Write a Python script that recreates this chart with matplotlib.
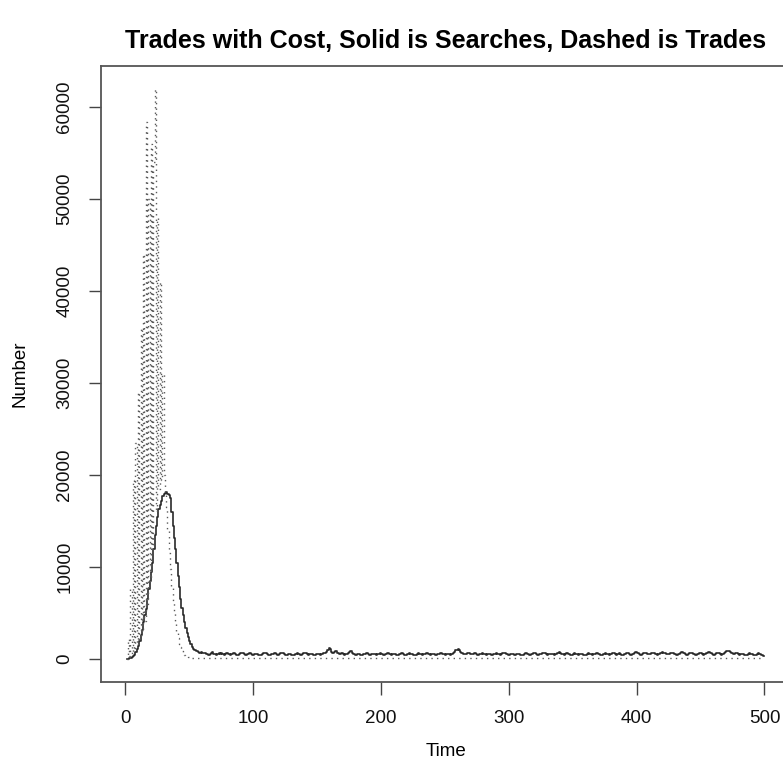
import matplotlib
matplotlib.use("Agg")
import matplotlib.pyplot as plt
import numpy as np

plt.rcParams['font.family'] = ['Liberation Sans', 'DejaVu Sans']

# Suchvorgaenge (durchgezogen), Zeit 1..500
searches_peak = [
    0, 50, 100, 150, 200, 300, 500, 800, 1100, 1400,
    2000, 2600, 3200, 4000, 4800, 5500, 6500, 7600, 8500, 9500,
    10500, 12000, 13500, 14500, 15500, 16300, 16800, 17200, 17700, 18000,
    18100, 18200, 18000, 17900, 17500, 16000, 14500, 13200, 12000, 10500,
    9000, 7800, 6500, 5600, 4800, 4000, 3400, 2900, 2400, 2000,
    1600, 1300, 1100, 1000, 900, 850, 800, 700, 760, 680,
]
searches_tail = [
    720, 650, 560, 610, 480, 520, 690, 740, 600, 530, 470, 560, 640, 590, 700, 520, 450, 510, 630, 580,
    540, 490, 600, 710, 660, 520, 430, 480, 560, 620, 700, 650, 540, 470, 510, 590, 680, 610, 500, 440,
    520, 600, 560, 480, 410, 470, 550, 640, 720, 660, 580, 500, 450, 520, 610, 690, 630, 540, 480, 560,
    650, 720, 680, 590, 500, 460, 530, 610, 560, 480, 420, 500, 580, 650, 600, 520, 470, 540, 620, 700,
    640, 560, 490, 530, 600, 560, 480, 440, 510, 590, 540, 470, 520, 610, 680, 720, 800, 1000, 1200, 1150,
    820, 640, 760, 920, 880, 700, 600, 560, 620, 580, 500, 540, 610, 700, 820, 860, 720, 600, 540, 480,
    530, 610, 560, 500, 450, 520, 600, 660, 620, 550, 490, 540, 610, 580, 520, 470, 530, 600, 650, 590,
    520, 460, 510, 580, 640, 600, 530, 480, 540, 610, 560, 500, 450, 510, 580, 630, 570, 500, 460, 520,
    590, 650, 610, 540, 480, 430, 500, 570, 620, 580, 510, 460, 520, 600, 660, 620, 550, 490, 540, 600,
    560, 500, 460, 530, 610, 680, 640, 570, 510, 470, 540, 600, 560, 500, 580, 700, 820, 950, 1050, 1100,
    980, 760, 640, 580, 520, 600, 680, 720, 650, 580, 510, 560, 620, 580, 500, 460, 530, 600, 650, 610,
    540, 480, 520, 590, 560, 490, 450, 510, 580, 640, 600, 530, 480, 540, 620, 680, 640, 560, 500, 470,
    530, 610, 570, 500, 450, 520, 600, 560, 490, 440, 500, 580, 640, 600, 530, 470, 520, 600, 660, 620,
    560, 500, 460, 520, 590, 650, 700, 640, 560, 500, 540, 610, 580, 510, 460, 520, 600, 680, 740, 680,
    600, 530, 480, 540, 620, 580, 510, 460, 500, 570, 640, 600, 520, 470, 530, 610, 560, 490, 440, 500,
    580, 650, 610, 540, 480, 520, 600, 660, 620, 550, 490, 430, 480, 560, 640, 600, 530, 470, 520, 610,
    690, 640, 560, 500, 540, 620, 580, 500, 450, 510, 590, 660, 620, 540, 480, 530, 610, 680, 740, 700,
    620, 550, 490, 540, 620, 700, 660, 580, 510, 560, 640, 720, 680, 600, 530, 480, 540, 620, 700, 760,
    720, 640, 570, 510, 560, 640, 700, 660, 580, 520, 470, 530, 610, 690, 750, 700, 620, 550, 500, 560,
    640, 700, 660, 580, 510, 460, 520, 600, 680, 640, 560, 500, 550, 630, 700, 760, 720, 640, 560, 500,
    540, 620, 680, 640, 560, 500, 560, 650, 760, 880, 940, 900, 760, 620, 540, 580, 660, 620, 540, 480,
    520, 600, 560, 480, 430, 500, 580, 640, 600, 520, 460, 410, 480, 560, 620, 580, 500, 440, 400, 380,
]

# Handel (gepunktet), Zeit 1..500
trades_peak = [
    0, 2200, 300, 7600, 600, 19500, 1000, 23500, 1500, 29000,
    2200, 36000, 3000, 44000, 4200, 58400, 6000, 50000, 8500, 56000,
    12000, 54000, 62000, 16000, 48000, 18500, 41000, 19500, 31000, 20000,
    18000, 16500, 14000, 11500, 9800, 8000, 6300, 5000, 4000, 3000,
    2300, 1700, 1300, 900, 700, 500, 400, 300, 250, 200,
]
trades_tail = [
    180, 160, 150, 140, 130, 120, 130, 110, 100, 120, 110, 90, 100, 120, 110, 100, 90, 110, 120, 100, 90, 100, 110, 120, 100,
    90, 100, 110, 100, 90, 110, 120, 100, 90, 100, 110, 100, 120, 110, 90, 100, 110, 100, 90, 100, 120, 110, 100, 90, 110,
    100, 90, 110, 120, 100, 90, 100, 110, 100, 120, 110, 90, 100, 110, 100, 90, 100, 120, 110, 100, 90, 110, 120, 100, 90,
    100, 110, 120, 100, 90, 100, 110, 100, 120, 110, 90, 100, 110, 100, 90, 100, 120, 110, 100, 90, 110, 100, 90, 110, 120,
    100, 90, 100, 110, 100, 120, 110, 90, 100, 110, 100, 90, 100, 120, 110, 100, 90, 110, 120, 100, 90, 100, 110, 120, 100,
    90, 100, 110, 100, 120, 110, 90, 100, 110, 100, 90, 100, 120, 110, 100, 90, 110, 100, 90, 110, 120, 100, 90, 100, 110,
    100, 120, 110, 90, 100, 110, 100, 90, 100, 120, 110, 100, 90, 110, 120, 100, 90, 100, 110, 120, 100, 90, 100, 110, 100,
    120, 110, 90, 100, 110, 100, 90, 100, 120, 110, 100, 90, 110, 100, 90, 110, 120, 100, 90, 100, 110, 100, 120, 110, 90,
    100, 110, 100, 90, 100, 120, 110, 100, 90, 110, 120, 100, 90, 100, 110, 120, 100, 90, 100, 110, 100, 120, 110, 90, 100,
    110, 100, 90, 100, 120, 110, 100, 90, 110, 100, 90, 110, 120, 100, 90, 100, 110, 100, 120, 110, 90, 100, 110, 100, 90,
    100, 120, 110, 100, 90, 110, 120, 100, 90, 100, 110, 120, 100, 90, 100, 110, 100, 120, 110, 90, 100, 110, 100, 90, 100,
    120, 110, 100, 90, 110, 100, 90, 110, 120, 100, 90, 100, 110, 100, 120, 110, 90, 100, 110, 100, 90, 100, 120, 110, 100,
    90, 110, 120, 100, 90, 100, 110, 120, 100, 90, 100, 110, 100, 120, 110, 90, 100, 110, 100, 90, 100, 120, 110, 100, 90,
    110, 100, 90, 110, 120, 100, 90, 100, 110, 100, 120, 110, 90, 100, 110, 100, 90, 100, 120, 110, 100, 90, 110, 120, 100,
    90, 100, 110, 120, 100, 90, 100, 110, 100, 120, 110, 90, 100, 110, 100, 90, 100, 120, 110, 100, 90, 110, 100, 90, 110,
    120, 100, 90, 100, 110, 100, 120, 110, 90, 100, 110, 100, 90, 100, 120, 110, 100, 90, 110, 120, 100, 90, 100, 110, 120,
    100, 90, 100, 110, 100, 120, 110, 90, 100, 110, 100, 90, 100, 120, 110, 100, 90, 110, 100, 90, 110, 120, 100, 90, 100,
    110, 100, 120, 110, 90, 100, 110, 100, 90, 100, 120, 110, 100, 90, 110, 120, 100, 90, 100, 110, 120, 100, 90, 100, 110,
]

searches = searches_peak + searches_tail
trades = trades_peak + trades_tail
time = np.arange(1, len(searches) + 1)

x_ticks = [0, 100, 200, 300, 400, 500]
y_ticks = [0, 10000, 20000, 30000, 40000, 50000, 60000]

fig = plt.figure(figsize=(7.83, 7.80), dpi=100)
ax = fig.add_axes([101 / 783, 1 - 682 / 780, 689 / 783, 616 / 780])

ax.plot(time, searches, drawstyle="steps-post", color="#2a2a2a", lw=1.2)
ax.plot(time[:len(trades)], trades, drawstyle="steps-post", color="#5a5a5a",
        lw=1.0, linestyle=(0, (1, 3)))

# Achsenbereich wie bei R: 4% Rand
x_rng = time.max() - time.min()
ax.set_xlim(time.min() - 0.04 * x_rng, time.max() + 0.04 * x_rng)
y_all = searches + trades
y_rng = max(y_all) - min(y_all)
ax.set_ylim(min(y_all) - 0.04 * y_rng, max(y_all) + 0.04 * y_rng)

ax.set_xticks(x_ticks)
ax.set_yticks(y_ticks)
ax.set_yticklabels([str(v) for v in y_ticks], rotation=90, va="center")
ax.tick_params(direction="out", length=9, width=1, colors="#444444",
               labelcolor="#111111", labelsize=13.5, pad=11)
for s in ax.spines.values():
    s.set_color("#555555")
    s.set_linewidth(1.3)

ax.set_title("Trades with Cost, Solid is Searches, Dashed is Trades",
             fontsize=18, fontweight="bold", pad=13)
ax.set_xlabel("Time", fontsize=13.5, labelpad=12)
ax.set_ylabel("Number", fontsize=13.5, labelpad=20)

fig.savefig("out.png", dpi=100)
